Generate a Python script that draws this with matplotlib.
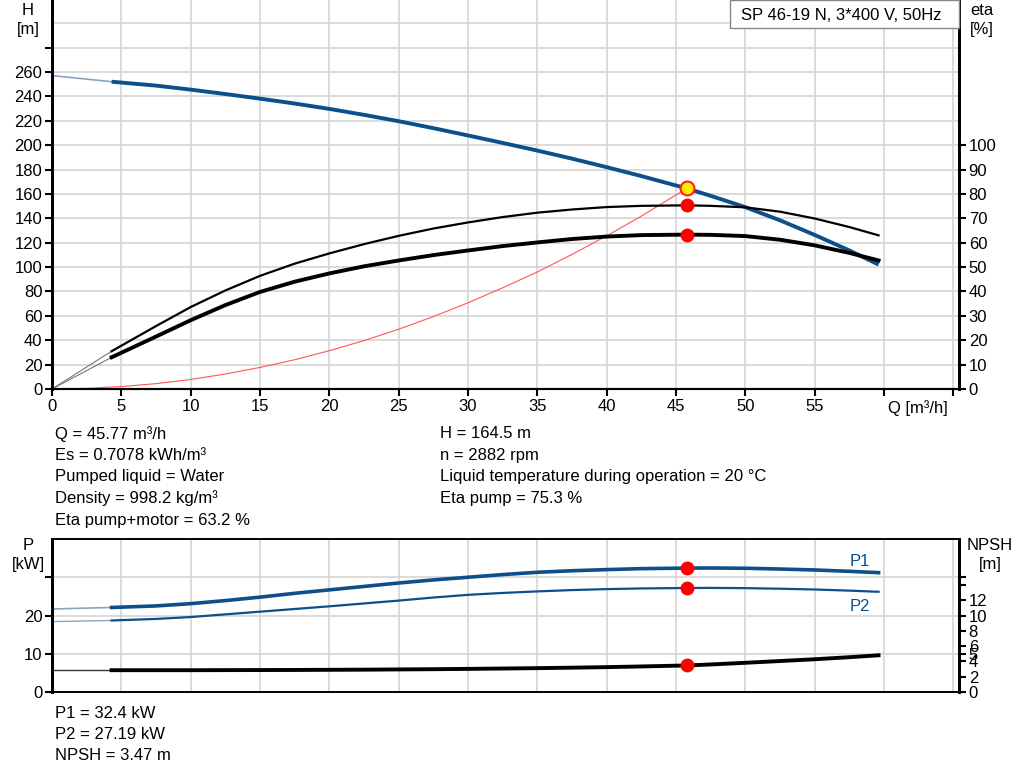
import numpy as np
import matplotlib.pyplot as plt
from matplotlib.patches import Rectangle

plt.rcParams['font.family'] = ['Liberation Sans', 'DejaVu Sans']

# pump curve data
q_pts = [4.3, 7.5, 10, 12.5, 15, 17.5, 20, 22.5, 25, 27.5, 30, 32.5, 35, 37.5,
         40, 42.5, 45.77, 47.5, 50, 52.5, 55, 57.5, 59.6]
h_pts = [252, 248.8, 245.5, 241.9, 238.1, 234.1, 229.7, 224.8, 219.6, 213.9, 207.9, 201.8,
         195.5, 188.9, 181.9, 174.6, 164.5, 158.4, 149.1, 138.3, 126.3, 113.6, 102]
eta_pump = [15.5, 25.8, 33.6, 40.4, 46.4, 51.4, 55.6, 59.4, 62.8, 65.8, 68.3, 70.5,
            72.3, 73.6, 74.6, 75.1, 75.3, 75.1, 74.5, 72.7, 69.9, 66.4, 63.0]
eta_total = [13.0, 21.5, 28.2, 34.4, 39.8, 44.0, 47.4, 50.3, 52.7, 54.9, 56.8, 58.6,
             60.1, 61.5, 62.5, 63.1, 63.3, 63.2, 62.7, 61.2, 58.9, 55.8, 52.7]
p1_pts = [22.1, 22.5, 23.1, 23.9, 24.8, 25.8, 26.7, 27.6, 28.5, 29.3, 30.0, 30.7,
          31.3, 31.7, 32.0, 32.25, 32.4, 32.42, 32.35, 32.15, 31.9, 31.55, 31.2]
p2_pts = [18.7, 19.1, 19.6, 20.3, 21.0, 21.7, 22.4, 23.15, 23.9, 24.7, 25.4, 25.9,
          26.3, 26.65, 26.9, 27.07, 27.19, 27.22, 27.15, 27.0, 26.8, 26.5, 26.2]
npsh_pts = [2.85, 2.85, 2.85, 2.86, 2.87, 2.88, 2.9, 2.92, 2.95, 2.98, 3.02, 3.07,
            3.12, 3.18, 3.25, 3.34, 3.47, 3.6, 3.82, 4.05, 4.28, 4.55, 4.8]

# values at Q = 0 (thin extension lines)
h_zero = 257
p1_zero = 21.7
p2_zero = 18.4
npsh_zero = 2.85

# system curve
sys_q = [0, 2.5, 5, 7.5, 10, 12.5, 15, 17.5, 20, 22.5, 25, 27.5, 30, 32.5, 35,
         37.5, 40, 42.5, 45.77]
sys_h = [0, 0.5, 2, 4.4, 7.8, 12.3, 17.7, 24, 31.4, 39.7, 49, 59.4, 70.7, 83, 96,
         110.4, 125.6, 141.8, 164.5]

duty_q = 45.77
duty_h = 164.5

left_text = ['Q = 45.77 m³/h', 'Es = 0.7078 kWh/m³', 'Pumped liquid = Water',
             'Density = 998.2 kg/m³', 'Eta pump+motor = 63.2 %']
right_text = ['H = 164.5 m', 'n = 2882 rpm',
              'Liquid temperature during operation = 20 °C', 'Eta pump = 75.3 %']
bottom_text = ['P1 = 32.4 kW', 'P2 = 27.19 kW', 'NPSH = 3.47 m']

blue = '#0d4f8b'
grid_c = '#d4d4d4'
W, H = 1024, 781
fs = 12

fig = plt.figure(figsize=(10.24, 7.81), dpi=100)

def box(x0, y0, x1, y1):
    return [x0 / W, 1 - y1 / H, (x1 - x0) / W, (y1 - y0) / H]

ax = fig.add_axes(box(52, 0, 959, 389))
ax2 = ax.twinx()

for a in (ax, ax2):
    a.set_xlim(0, 65.4)
ax.set_ylim(0, 319)
ax2.set_ylim(0, 159.5)

ax.set_xticks(np.arange(0, 70, 5))
ax.set_xticklabels([str(v) for v in range(0, 60, 5)] + ['', ''])
ax.set_yticks(np.arange(0, 300, 20))
ax.set_yticklabels([str(v) for v in range(0, 280, 20)] + [''])
ax2.set_yticks(np.arange(0, 110, 10))
ax.grid(True, color=grid_c, lw=1.2)
ax.axhline(300, color=grid_c, lw=1.2)
ax.set_axisbelow(True)

for a in (ax, ax2):
    a.tick_params(direction='out', length=5, width=1.5, labelsize=fs, colors='black', pad=2)
    a.spines['top'].set_visible(False)
    a.spines['left'].set_linewidth(2)
    a.spines['right'].set_linewidth(2)
    a.spines['bottom'].set_linewidth(1.5)

# H curve
ax.plot([0, q_pts[0]], [h_zero, h_pts[0]], color='#8aa4c0', lw=1.2)
ax.plot(q_pts, h_pts, color=blue, lw=2.8, solid_capstyle='butt')
# system curve
ax.plot(sys_q, sys_h, color='#ff5555', lw=0.8)

# efficiency curves
ax2.plot([0, q_pts[0]], [0, eta_pump[0]], color='#777777', lw=0.8)
ax2.plot([0, q_pts[0]], [0, eta_total[0]], color='#777777', lw=0.8)
ax2.plot(q_pts, eta_pump, color='black', lw=1.6)
ax2.plot(q_pts, eta_total, color='black', lw=2.8)
ax2.plot([duty_q], [75.3], 'o', color='#ff0000', ms=9)
ax2.plot([duty_q], [63.2], 'o', color='#ff0000', ms=9)
ax.plot([duty_q], [duty_h], 'o', mfc='#ffee00', mec='#ff2020', mew=1.5, ms=10)

fig.text(888 / W, 1 - 408 / H, 'Q [m³/h]', fontsize=fs, va='center', ha='left')
fig.text(28 / W, 1 - 3 / H, 'H\n[m]', fontsize=fs, ha='center', va='top', linespacing=1.3)
fig.text(982 / W, 1 - 3 / H, 'eta\n[%]', fontsize=fs, ha='center', va='top', linespacing=1.3)

fig.patches.append(Rectangle((730 / W, 1 - 28 / H), 229 / W, 28 / H, transform=fig.transFigure,
                             facecolor='white', edgecolor='#888888', lw=1))
fig.text(741 / W, 1 - 15 / H, 'SP 46-19 N, 3*400 V, 50Hz', fontsize=fs, va='center', ha='left')

for i, s in enumerate(left_text):
    fig.text(55 / W, 1 - (434 + 21.5 * i) / H, s, fontsize=fs, va='center')
for i, s in enumerate(right_text):
    fig.text(440 / W, 1 - (434 + 21.5 * i) / H, s, fontsize=fs, va='center')

# power / NPSH panel
bx = fig.add_axes(box(52, 539, 959, 692))
bx2 = bx.twinx()
for a in (bx, bx2):
    a.set_xlim(0, 65.4)
bx.set_ylim(0, 40)
bx2.set_ylim(0, 20)
bx.set_xticks(np.arange(0, 70, 5))
bx.set_xticklabels([])
bx.tick_params(axis='x', length=0)
bx.set_yticks([0, 10, 20, 30])
bx.set_yticklabels(['0', '10', '20', ''])
bx2.set_yticks([0, 2, 4, 5, 6, 8, 10, 12, 14, 15])
bx2.set_yticklabels(['0', '2', '4', '5', '6', '8', '10', '12', '', ''])
bx.grid(True, color=grid_c, lw=1.2)
bx.set_axisbelow(True)
for a in (bx, bx2):
    a.tick_params(axis='y', direction='out', length=5, width=1.5, labelsize=fs, pad=2)
    a.spines['left'].set_linewidth(2)
    a.spines['right'].set_linewidth(2)
    a.spines['top'].set_linewidth(1.2)
    a.spines['bottom'].set_linewidth(1.2)

bx.plot([0, q_pts[0]], [p1_zero, p1_pts[0]], color='#8aa4c0', lw=1.2)
bx.plot([0, q_pts[0]], [p2_zero, p2_pts[0]], color='#8aa4c0', lw=1.0)
bx.plot(q_pts, p1_pts, color=blue, lw=2.6)
bx.plot(q_pts, p2_pts, color=blue, lw=1.6)
bx2.plot([0, q_pts[0]], [npsh_zero, npsh_pts[0]], color='#333333', lw=1.0)
bx2.plot(q_pts, npsh_pts, color='black', lw=2.8)
bx.plot([duty_q], [32.4], 'o', color='#ff0000', ms=9)
bx.plot([duty_q], [27.19], 'o', color='#ff0000', ms=9)
bx2.plot([duty_q], [3.47], 'o', color='#ff0000', ms=9)

bx.text(57.5, 33.0, 'P1', color=blue, fontsize=fs)
bx.text(57.5, 21.3, 'P2', color=blue, fontsize=fs)

fig.text(28 / W, 1 - 538 / H, 'P\n[kW]', fontsize=fs, ha='center', va='top', linespacing=1.3)
fig.text(990 / W, 1 - 538 / H, 'NPSH\n[m]', fontsize=fs, ha='center', va='top', linespacing=1.3)

for i, s in enumerate(bottom_text):
    fig.text(55 / W, 1 - (713 + 21.5 * i) / H, s, fontsize=fs, va='center')

fig.savefig('out.png', dpi=100)
